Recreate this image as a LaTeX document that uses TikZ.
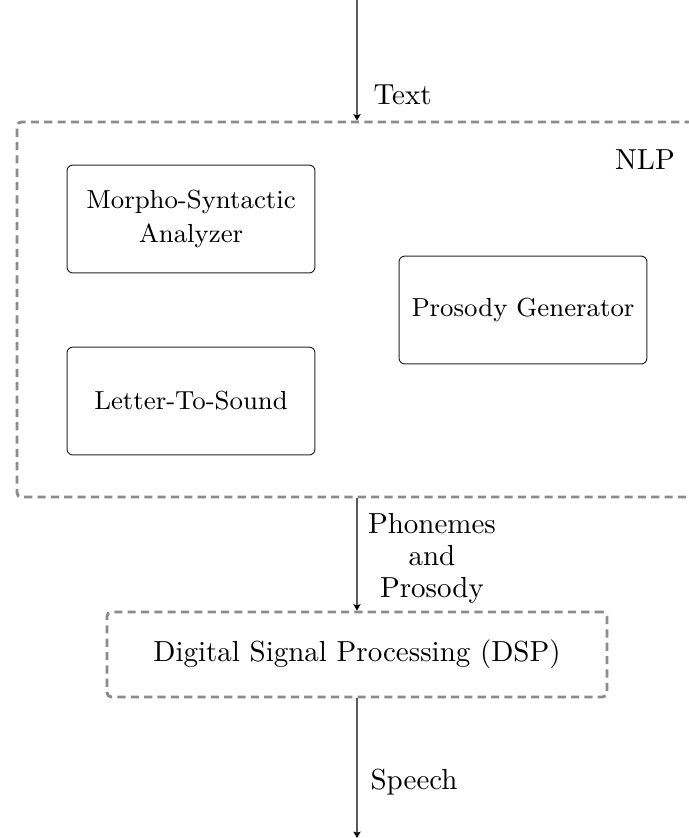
\documentclass[tikz,border=0pt]{standalone}
\usetikzlibrary{arrows.meta}
\begin{document}
\begin{tikzpicture}[x=0.3448pt, y=-0.3448pt,
  module/.style={draw=black!85, rounded corners=2pt, line width=0.35pt, inner sep=0pt,
    minimum width=85.5pt, minimum height=37.2pt, align=center,
    font=\fontsize{9}{12}\selectfont},
  stage/.style={draw=gray!90, dash pattern=on 2.8pt off 1.8pt, line width=1pt,
    rounded corners=1.5pt, inner sep=0pt},
  flow/.style={-{Stealth[length=2.2pt, width=2.5pt, inset=0.4pt, black]},
    draw=black!65, line width=0.4pt},
  lbl/.style={inner sep=0pt, align=center}]
  \useasboundingbox (0,0) rectangle (689,838);

  % outer stages
  \node[stage, minimum width=234.5pt, minimum height=129.3pt] (nlp) at (357,309.5) {};
  \node[stage, minimum width=172.4pt, minimum height=29.3pt] (dsp) at (357,654.5)
    {Digital Signal Processing (DSP)};
  \node[lbl] (nlplbl) at (645,160) {NLP};

  % NLP modules
  \node[module] (msa) at (191,219) {Morpho-Syntactic\\Analyzer};
  \node[module] (pg) at (523,310) {Prosody Generator};
  \node[module] (lts) at (191,401) {Letter-To-Sound};

  % signal flow
  \coordinate (in) at (357,0);
  \coordinate (out) at (357,838);
  \draw[flow] (in) -- (nlp.north);
  \draw[flow] (nlp.south) -- (dsp.north);
  \draw[flow] (dsp.south) -- (out);

  \node[lbl, anchor=west] (txt) at (373,95) {Text};
  \node[lbl, font=\fontsize{10}{11}\selectfont] (php) at (432,558) {Phonemes\\and\\Prosody};
  \node[lbl, anchor=west] (sp) at (370,782) {Speech};
\end{tikzpicture}
\end{document}
